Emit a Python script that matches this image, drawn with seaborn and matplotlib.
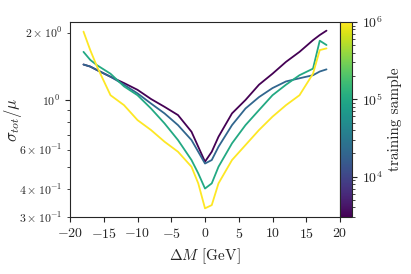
import numpy as np
import pandas as pd
import seaborn as sns
import matplotlib
matplotlib.use("Agg")
import matplotlib.pyplot as plt
from matplotlib.colors import LogNorm

sns.set_style("ticks")
plt.rcParams["font.family"] = ["cmr10", "DejaVu Serif"]
plt.rcParams["mathtext.fontset"] = "cm"
plt.rcParams["axes.formatter.use_mathtext"] = True

# Data
delta = [-18, -17, -16, -14, -12, -10, -8, -6, -4, -2, -1, 0, 1, 2, 4, 6, 8, 10, 12, 14, 16, 17, 18]
samples = [3e3, 2e4, 1e5, 1e6]
sig_3e3 = [1.44, 1.41, 1.36, 1.27, 1.19, 1.11, 1.01, 0.932, 0.856, 0.721, 0.618, 0.530, 0.587,
           0.685, 0.871, 1.00, 1.17, 1.31, 1.48, 1.64, 1.85, 1.95, 2.04]
sig_2e4 = [1.44, 1.41, 1.36, 1.27, 1.17, 1.07, 0.964, 0.871, 0.772, 0.662, 0.587, 0.520, 0.539,
           0.618, 0.772, 0.916, 1.03, 1.13, 1.21, 1.25, 1.29, 1.34, 1.37]
sig_1e5 = [1.64, 1.51, 1.43, 1.31, 1.15, 1.05, 0.916, 0.786, 0.662, 0.539, 0.470, 0.402, 0.424,
           0.503, 0.640, 0.772, 0.901, 1.05, 1.17, 1.29, 1.38, 1.84, 1.76]
sig_1e6 = [2.02, 1.67, 1.41, 1.05, 0.948, 0.813, 0.734, 0.651, 0.587, 0.503, 0.424, 0.328, 0.339,
           0.424, 0.539, 0.629, 0.734, 0.842, 0.948, 1.05, 1.31, 1.67, 1.70]

series = [sig_3e3, sig_2e4, sig_1e5, sig_1e6]
rows = []
for s, vals in zip(samples, series):
    for d, v in zip(delta, vals):
        rows.append({"delta": d, "sigma": v, "sample": s})
df = pd.DataFrame(rows)

norm = LogNorm(vmin=3e3, vmax=1e6)

fig = plt.figure(figsize=(4.11, 2.74), dpi=100)
ax = fig.add_axes([70/411, 57/274, 270/411, 195/274])
cax = fig.add_axes([340/411, 57/274, 12/411, 195/274])

sns.lineplot(data=df, x="delta", y="sigma", hue="sample", hue_norm=norm,
             palette="viridis", ax=ax, legend=False, linewidth=1.3)
ax.set_yscale("log")
ax.set_ylim(0.3, 2.23)
ax.set_xlim(-20, 20)
ax.set_xticks([-20, -15, -10, -5, 0, 5, 10, 15, 20])
ax.set_xlabel(r"$\Delta M$ [GeV]", fontsize=11)
ax.set_ylabel(r"$\sigma_{tot}/\mu$", fontsize=12)
ax.yaxis.set_label_coords(-0.17, 0.5)
ax.tick_params(axis="x", labelsize=10)
ax.tick_params(axis="y", which="both", labelsize=8.5)

sm = plt.cm.ScalarMappable(norm=norm, cmap="viridis")
cb = fig.colorbar(sm, cax=cax)
cb.set_label("training sample", fontsize=11)
cb.ax.tick_params(labelsize=10)

fig.savefig("out.png", dpi=100)
